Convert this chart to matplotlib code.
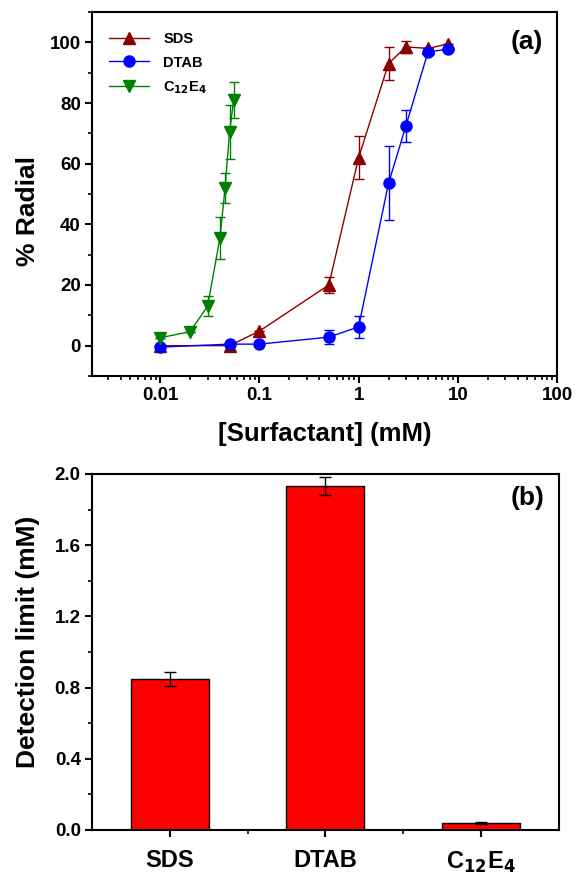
import numpy as np
import matplotlib
matplotlib.use('Agg')
import matplotlib.pyplot as plt
from matplotlib.ticker import MultipleLocator, LogLocator, NullFormatter, FixedLocator, FormatStrFormatter
from matplotlib.lines import Line2D

plt.rcParams['font.family'] = ['Liberation Sans', 'DejaVu Sans']
plt.rcParams['font.weight'] = 'bold'
plt.rcParams['mathtext.default'] = 'bf'

# (a) % radial vs surfactant concentration
sds_x = [0.01, 0.05, 0.1, 0.5, 1, 2, 3, 5, 8]
sds_y = [0, 0, 4.8, 20, 62, 93, 98.5, 98, 99.5]
sds_e = [0, 0, 0, 2.7, 7, 5.5, 2, 0, 0]

dtab_x = [0.01, 0.05, 0.1, 0.5, 1, 2, 3, 5, 8]
dtab_y = [-0.5, 0.5, 0.5, 2.8, 6.2, 53.5, 72.5, 96.8, 97.8]
dtab_e = [0, 0, 0, 2.3, 3.7, 12.2, 5.2, 0, 0]

c12_x = [0.01, 0.02, 0.03, 0.04, 0.045, 0.05, 0.055]
c12_y = [2.6, 4.6, 13, 35.5, 52, 70.5, 81]
c12_e = [0, 0, 3.3, 7, 5, 9, 6]

# (b) detection limit
cats = ['SDS', 'DTAB', r'C$_{12}$E$_4$']
det = [0.85, 1.93, 0.04]
det_e = [0.04, 0.05, 0.005]

red_dark = '#8b0000'
blue = '#0000ff'
green = '#008000'

fig = plt.figure(figsize=(5.77, 8.77), dpi=100)

# ---- panel (a)
ax1 = fig.add_axes([0.1594, 0.5713, 0.806, 0.415])
ax1.errorbar(sds_x, sds_y, yerr=sds_e, color=red_dark, marker='^', ms=8, lw=1,
             capsize=3.5, elinewidth=1)
ax1.errorbar(dtab_x, dtab_y, yerr=dtab_e, color=blue, marker='o', ms=8, lw=1,
             capsize=3.5, elinewidth=1)
ax1.errorbar(c12_x, c12_y, yerr=c12_e, color=green, marker='v', ms=8, lw=1,
             capsize=3.5, elinewidth=1)
ax1.set_xscale('log')
ax1.set_xlim(0.00205, 100)
ax1.set_ylim(-10, 110)
ax1.set_xticks([0.01, 0.1, 1, 10, 100])
ax1.set_xticklabels(['0.01', '0.1', '1', '10', '100'])
ax1.xaxis.set_minor_locator(LogLocator(base=10, subs=np.arange(2, 10)))
ax1.xaxis.set_minor_formatter(NullFormatter())
ax1.yaxis.set_major_locator(FixedLocator([0, 20, 40, 60, 80, 100]))
ax1.yaxis.set_minor_locator(MultipleLocator(10))
ax1.set_xlabel('[Surfactant] (mM)', fontsize=18.5, fontweight='bold', labelpad=13)
ax1.set_ylabel('% Radial', fontsize=19, fontweight='bold')
ax1.yaxis.set_label_coords(-0.112, 0.453)
ax1.text(0.97, 0.918, '(a)', transform=ax1.transAxes, ha='right', va='center',
         fontsize=19, fontweight='bold')

handles = [Line2D([], [], color=red_dark, marker='^', ms=8, lw=1),
           Line2D([], [], color=blue, marker='o', ms=8, lw=1),
           Line2D([], [], color=green, marker='v', ms=8, lw=1)]
ax1.legend(handles, ['SDS', 'DTAB', r'C$_{12}$E$_4$'], loc='upper left', frameon=False,
           fontsize=10.5, handlelength=2.7, handletextpad=1.0, labelspacing=0.65,
           borderaxespad=0.0, bbox_to_anchor=(0.025, 0.961))

# ---- panel (b)
ax2 = fig.add_axes([0.1594, 0.0536, 0.809, 0.406])
xpos = np.arange(1, len(cats) + 1)
ax2.bar(xpos, det, width=0.5, color='#ff0000', edgecolor='black', linewidth=1)
ax2.errorbar(xpos, det, yerr=det_e, fmt='none', ecolor='black', elinewidth=1, capsize=4)
ax2.set_xlim(0.5, 3.5)
ax2.set_ylim(0, 2.0)
ax2.set_xticks(xpos)
ax2.set_xticklabels(cats)
ax2.xaxis.set_minor_locator(FixedLocator([1.5, 2.5]))
ax2.yaxis.set_major_locator(MultipleLocator(0.4))
ax2.yaxis.set_minor_locator(MultipleLocator(0.2))
ax2.yaxis.set_major_formatter(FormatStrFormatter('%.1f'))
ax2.set_ylabel('Detection limit (mM)', fontsize=19, fontweight='bold')
ax2.yaxis.set_label_coords(-0.111, 0.528)
ax2.text(0.97, 0.932, '(b)', transform=ax2.transAxes, ha='right', va='center',
         fontsize=19, fontweight='bold')

for ax in (ax1, ax2):
    for s in ax.spines.values():
        s.set_linewidth(1.5)
    ax.tick_params(which='major', direction='out', length=5, width=1.5, labelsize=13.5, pad=3)
    ax.tick_params(which='minor', direction='out', length=3.2, width=1.2)
    for lab in ax.get_yticklabels() + ax.get_xticklabels():
        lab.set_fontweight('bold')
ax2.tick_params(axis='x', which='major', labelsize=17, pad=9)

fig.savefig('out.png', dpi=100)
